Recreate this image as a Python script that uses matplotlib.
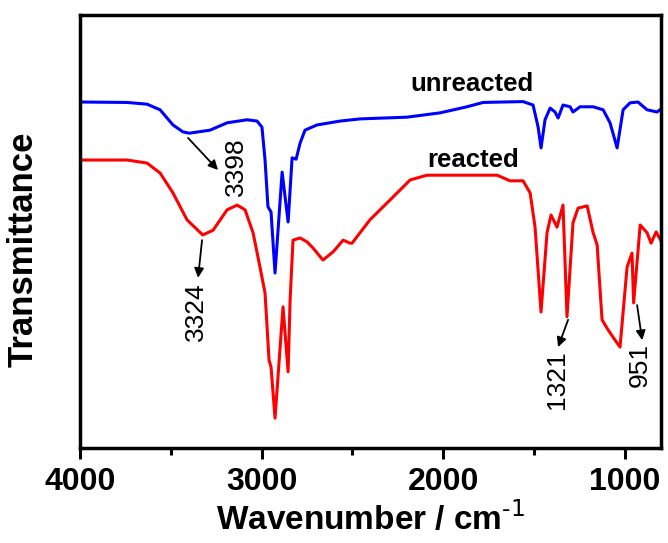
import matplotlib
matplotlib.use("Agg")
import matplotlib.pyplot as plt
from matplotlib.ticker import MultipleLocator

plt.rcParams['font.family'] = ['Liberation Sans', 'DejaVu Sans']
plt.rcParams['mathtext.default'] = 'regular'

# unreacted spectrum (wavenumber, transmittance a.u.)
wn_unreacted = [4000, 3741, 3631, 3559, 3488, 3433, 3398, 3284, 3190, 3080, 3025, 2998,
                2981, 2965, 2948, 2926, 2887, 2854, 2832, 2810, 2788, 2761, 2695, 2568,
                2458, 2199, 2017, 1869, 1780, 1560, 1505, 1477, 1461, 1439, 1411, 1384,
                1367, 1340, 1301, 1285, 1246, 1174, 1119, 1081, 1042, 1009, 971, 927,
                877, 822, 800]
t_unreacted = [79.9, 79.8, 79.4, 78.1, 74.6, 73.0, 72.7, 73.4, 75.1, 75.8, 75.5, 74.1,
               66.5, 55.7, 54.5, 40.4, 63.7, 52.2, 67.0, 66.7, 70.4, 73.4, 74.6, 75.5,
               76.0, 76.4, 77.4, 78.8, 79.8, 80.0, 79.2, 74.1, 69.3, 75.8, 78.5, 77.6,
               76.2, 79.2, 78.8, 77.6, 78.8, 78.8, 78.1, 75.1, 69.3, 78.1, 79.7, 79.9,
               78.1, 77.6, 78.3]

# reacted spectrum
wn_reacted = [4000, 3741, 3631, 3559, 3488, 3411, 3324, 3267, 3190, 3135, 3091, 3047,
              3009, 2981, 2959, 2948, 2926, 2882, 2854, 2843, 2827, 2788, 2750, 2717,
              2662, 2606, 2551, 2513, 2502, 2403, 2292, 2182, 2089, 1835, 1703, 1632,
              1560, 1521, 1494, 1461, 1428, 1406, 1373, 1340, 1318, 1285, 1257, 1207,
              1174, 1152, 1125, 1092, 1053, 1026, 987, 960, 951, 915, 877, 855, 827, 800]
t_reacted = [66.5, 66.5, 65.8, 63.5, 58.9, 52.7, 49.2, 50.3, 55.0, 56.1, 55.0, 49.7,
             41.8, 35.8, 20.3, 18.7, 6.9, 32.6, 17.6, 34.2, 48.0, 48.5, 47.6, 46.2,
             43.4, 45.3, 48.0, 47.3, 47.3, 52.7, 57.3, 61.9, 63.0, 63.0, 63.0, 61.7,
             61.7, 58.9, 51.0, 31.4, 49.7, 53.8, 51.0, 56.1, 30.3, 52.0, 55.4, 55.9,
             49.7, 46.9, 29.6, 27.3, 24.9, 23.3, 41.8, 45.0, 33.5, 51.5, 49.7, 47.3,
             49.9, 47.8]

# peak labels: text, arrow tail, arrow head, label centre
peak_labels = ['3398', '3324', '1321', '951']
arrow_tail = [(3405, 71.6), (3328, 48.0), (1312, 29.6), (932, 33.0)]
arrow_head = [(3240, 64.2), (3350, 39.3), (1367, 23.3), (904, 24.9)]
label_pos = [(3140, 64.9), (3361, 31.5), (1373, 15.8), (915, 19.2)]

fig = plt.figure(figsize=(6.68, 5.43), dpi=100)
ax = fig.add_axes([0.1198, 0.1750, 0.8698, 0.7974])

ax.plot(wn_unreacted, t_unreacted, color='blue', lw=2.2)
ax.plot(wn_reacted, t_reacted, color='red', lw=2.2)

ax.text(1841, 84.1, 'unreacted', fontsize=18.5, fontweight='bold', ha='center', va='center')
ax.text(1835, 66.5, 'reacted', fontsize=18.5, fontweight='bold', ha='center', va='center')

for lab, tail, head, pos in zip(peak_labels, arrow_tail, arrow_head, label_pos):
    ax.annotate('', xy=head, xytext=tail,
                arrowprops=dict(arrowstyle='-|>', color='black', lw=1.3,
                                mutation_scale=14, shrinkA=0, shrinkB=0))
    ax.text(pos[0], pos[1], lab, fontsize=19, rotation=90, ha='center', va='center')

ax.set_xlim(4000, 800)
ax.set_ylim(0, 100)
ax.xaxis.set_major_locator(MultipleLocator(1000))
ax.xaxis.set_minor_locator(MultipleLocator(500))
ax.set_yticks([])
ax.tick_params(axis='x', which='major', direction='out', length=8, width=2.2,
               labelsize=23, pad=6)
ax.tick_params(axis='x', which='minor', direction='out', length=5, width=2.2)
for lbl in ax.get_xticklabels():
    lbl.set_fontweight('bold')
for sp in ax.spines.values():
    sp.set_linewidth(2.5)

ax.set_xlabel('Wavenumber / cm$^{\\text{-1}}$', fontsize=24, fontweight='bold', labelpad=3)
ax.set_ylabel('Transmittance', fontsize=25, fontweight='bold')
ax.yaxis.set_label_coords(-0.07, 0.46)

fig.savefig('out.png', dpi=100)
